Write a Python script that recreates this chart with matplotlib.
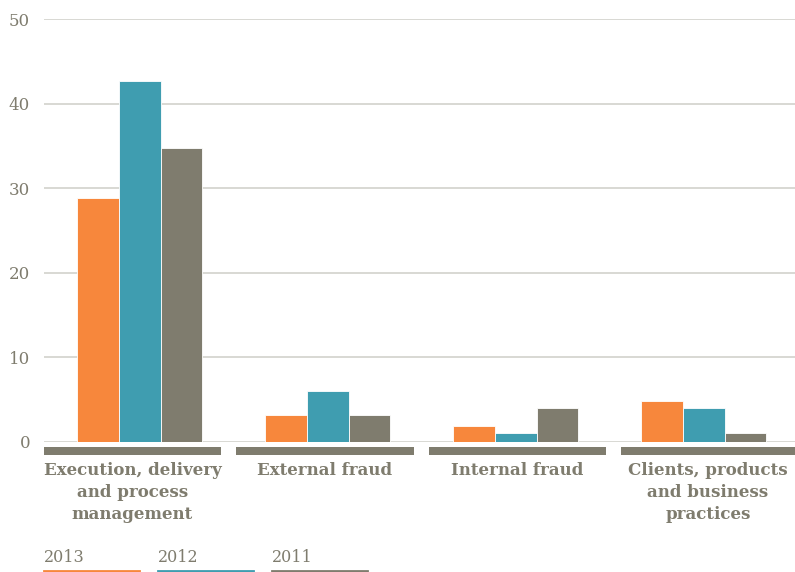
import matplotlib
matplotlib.use("Agg")
import matplotlib.pyplot as plt
from matplotlib.patches import Rectangle
from matplotlib.transforms import blended_transform_factory
import numpy as np

categories = ["Execution, delivery\nand process\nmanagement", "External fraud",
              "Internal fraud", "Clients, products\nand business\npractices"]
years = ["2013", "2012", "2011"]
values_2013 = [28.9, 3.2, 1.9, 4.8]
values_2012 = [42.7, 6.0, 1.1, 4.0]
values_2011 = [34.8, 3.2, 4.0, 1.1]
yticks = [0, 10, 20, 30, 40, 50]

colors = ["#F7873C", "#3F9DB0", "#7F7C6E"]
text_color = "#7F7C6E"
grid_color = "#D6D5D0"

W, H = 795, 572
fig = plt.figure(figsize=(W / 100, H / 100), dpi=100)
ax_left, ax_right, ax_top, ax_bot = 44, 795, 19, 442
ax = fig.add_axes([ax_left / W, (H - ax_bot) / H, (ax_right - ax_left) / W, (ax_bot - ax_top) / H])

x = np.arange(len(categories))
bw = 0.222
series = [values_2013, values_2012, values_2011]
for i, (vals, c) in enumerate(zip(series, colors)):
    ax.bar(x + (i - 1) * bw, vals, width=bw, color=c, edgecolor="white", linewidth=0.6, zorder=3)

ax.set_ylim(0, 50)
ax.set_xlim(-0.51, 3.485)
ax.set_yticks(yticks)
ax.yaxis.grid(True, color=grid_color, linewidth=1.3, zorder=0)
ax.set_axisbelow(True)
for s in ax.spines.values():
    s.set_visible(False)
ax.tick_params(axis="y", length=0, pad=10, labelsize=12, labelcolor=text_color)
for lab in ax.get_yticklabels():
    lab.set_fontfamily("DejaVu Serif")
ax.set_xticks([])

# group strips under the axis
axw = ax_right - ax_left
starts = [44, 236, 429, 621]
ends = [221, 414, 606, 800]
trans = blended_transform_factory(ax.transAxes, fig.transFigure)
for s0, e0, cat in zip(starts, ends, categories):
    fx0 = (s0 - ax_left) / axw
    fw = (min(e0, 795) - s0) / axw
    ax.add_patch(Rectangle((fx0, (H - 455) / H), fw, 8 / H, transform=trans,
                           color=text_color, clip_on=False, linewidth=0))
    cx = (s0 + min(e0, 795)) / 2 if e0 < 795 else 708
    fig.text(cx / W, 1 - 462 / H, cat, ha="center", va="top", fontsize=12,
             fontweight="bold", color=text_color, family="DejaVu Serif",
             linespacing=1.4)

# legend
leg_x = [44, 158, 272]
for lx, yr, c in zip(leg_x, years, colors):
    fig.text(lx / W, 1 - 558 / H, yr, ha="left", va="center", fontsize=11.5,
             color=text_color, family="DejaVu Serif")
    fig.add_artist(plt.Line2D([lx / W, (lx + 95) / W], [1 - 571 / H, 1 - 571 / H],
                              color=c, linewidth=2, transform=fig.transFigure))

fig.savefig("out.png", dpi=100, facecolor="white")
